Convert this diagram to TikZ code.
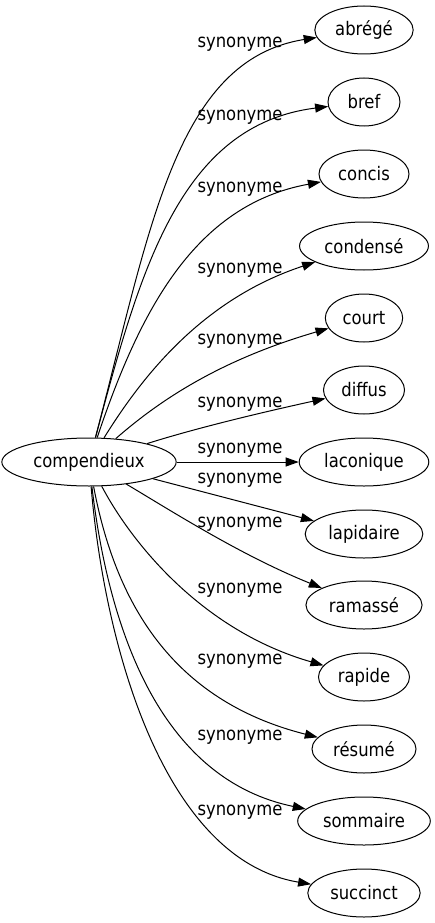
\documentclass[tikz,border=0pt]{standalone}
\usepackage{fontspec}
\setmainfont{DejaVu Sans}[FakeStretch=0.88]
\usetikzlibrary{arrows.meta,shapes.geometric}

\begin{document}
\begin{tikzpicture}[
    x=1pt, y=-1pt,
    word/.style={ellipse, draw, line width=1pt, inner xsep=6pt, inner ysep=2pt,
                 minimum width=72pt, minimum height=48pt,
                 font=\fontsize{18.67}{22}\selectfont},
    rel/.style={font=\fontsize{18.67}{22}\selectfont},
    edge/.style={line width=1pt, -{Triangle[length=13pt,width=9pt]}}
]
\useasboundingbox (0,0) rectangle (435,923);

% Head word
\node[word] (compendieux) at (89,462) {compendieux};

% Synonyms
\node[word] (abrege)    at (364,30)  {abrégé};
\node[word] (bref)      at (364,102) {bref};
\node[word] (concis)    at (364,174) {concis};
\node[word] (condense)  at (364,246) {condensé};
\node[word] (court)     at (364,318) {court};
\node[word] (diffus)    at (364,390) {diffus};
\node[word] (laconique) at (364,462) {laconique};
\node[word] (lapidaire) at (364,534) {lapidaire};
\node[word] (ramasse)   at (364,605) {ramassé};
\node[word] (rapide)    at (364,677) {rapide};
\node[word] (resume)    at (364,749) {résumé};
\node[word] (sommaire)  at (364,821) {sommaire};
\node[word] (succinct)  at (364,893) {succinct};

% Edges
\draw[edge] (compendieux) .. controls (150,230) and (175,60)  .. (abrege);
\draw[edge] (compendieux) .. controls (140,270) and (180,125) .. (bref);
\draw[edge] (compendieux) .. controls (140,310) and (195,205) .. (concis);
\draw[edge] (compendieux) .. controls (140,380) and (200,300) .. (condense);
\draw[edge] (compendieux) .. controls (160,400) and (220,360) .. (court);
\draw[edge] (compendieux) .. controls (190,430) and (250,415) .. (diffus);
\draw[edge] (compendieux) -- (laconique);
\draw[edge] (compendieux) -- (lapidaire);
\draw[edge] (compendieux) .. controls (170,510) and (240,555) .. (ramasse);
\draw[edge] (compendieux) .. controls (130,540) and (200,630) .. (rapide);
\draw[edge] (compendieux) .. controls (115,600) and (170,700) .. (resume);
\draw[edge] (compendieux) .. controls (110,640) and (165,780) .. (sommaire);
\draw[edge] (compendieux) .. controls (105,650) and (165,860) .. (succinct);

% Edge labels
\node[rel] (l-abrege)    at (240,44)  {synonyme};
\node[rel] (l-bref)      at (240,117) {synonyme};
\node[rel] (l-concis)    at (240,189) {synonyme};
\node[rel] (l-condense)  at (240,270) {synonyme};
\node[rel] (l-court)     at (240,341) {synonyme};
\node[rel] (l-diffus)    at (240,404) {synonyme};
\node[rel] (l-laconique) at (240,450) {synonyme};
\node[rel] (l-lapidaire) at (240,480) {synonyme};
\node[rel] (l-ramasse)   at (240,524) {synonyme};
\node[rel] (l-rapide)    at (240,590) {synonyme};
\node[rel] (l-resume)    at (240,661) {synonyme};
\node[rel] (l-sommaire)  at (240,737) {synonyme};
\node[rel] (l-succinct)  at (240,812) {synonyme};

\end{tikzpicture}
\end{document}
